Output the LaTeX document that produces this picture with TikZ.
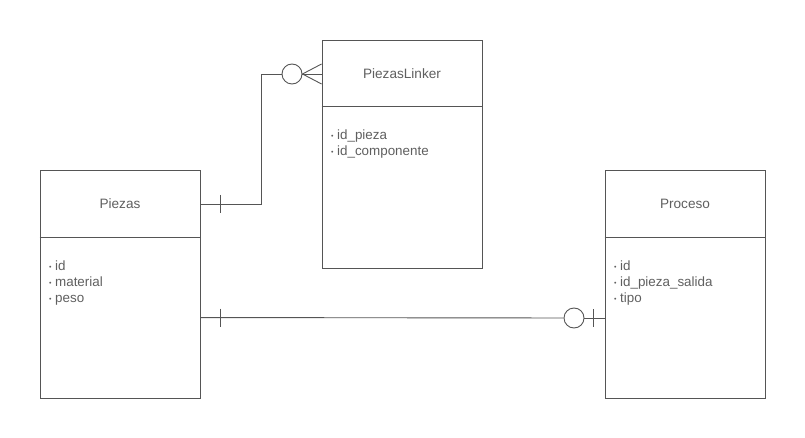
\documentclass[tikz,border=0pt]{standalone}
\usepackage{fontspec}
\setmainfont{Liberation Sans}
\usepackage{xcolor}
\usepackage{tikz}
\usetikzlibrary{positioning, calc}
\definecolor{LineGray}{RGB}{85, 85, 85}
\definecolor{TextGray}{RGB}{95, 95, 95}

\begin{document}
\begin{tikzpicture}[x=1pt, y=-1pt,
    entity/.style={draw=LineGray, line width=0.9pt, minimum width=160pt, minimum height=228pt, inner sep=0pt},
    title/.style={text=TextGray, font=\fontsize{13.6}{15}\selectfont},
    attrs/.style={text=TextGray, font=\fontsize{13.4}{16}\selectfont, align=left, anchor=north west, inner sep=0pt},
    conn/.style={draw=LineGray, line width=0.9pt},
    zero/.style={circle, draw=LineGray, line width=0.9pt, fill=white, minimum size=20pt, inner sep=0pt}]
  \useasboundingbox (0,0) rectangle (805,438);
  \newcommand{\itm}[1]{\raisebox{1.5pt}{\fontsize{7}{7}\selectfont\textbullet}\hspace{3.5pt}#1}

  % tables
  \node[entity] (piezas) at (120,284) {};
  \node[entity] (linker) at (402,154) {};
  \node[entity] (proceso) at (685,284) {};

  \node[title] (piezasT) at (120,204) {Piezas};
  \node[title] (linkerT) at (402,74) {PiezasLinker};
  \node[title] (procesoT) at (685,204) {Proceso};

  \draw[conn] ($(piezas.north west)+(0,68)$) -- ($(piezas.north east)+(0,68)$);
  \draw[conn] ($(linker.north west)+(0,67)$) -- ($(linker.north east)+(0,67)$);
  \draw[conn] ($(proceso.north west)+(0,68)$) -- ($(proceso.north east)+(0,68)$);

  \node[attrs] (piezasA) at (49,261) {\itm{id}\\ \itm{material}\\ \itm{peso}};
  \node[attrs] (linkerA) at (331,130) {\itm{id\_pieza}\\ \itm{id\_componente}};
  \node[attrs] (procesoA) at (614,261) {\itm{id}\\ \itm{id\_pieza\_salida}\\ \itm{tipo}};

  % Piezas -> PiezasLinker
  \coordinate (bend) at ($(piezas.east |- piezasT)+(61,0)$);
  \node[zero] (z1) at (292,74) {};
  \draw[conn] (piezas.east |- piezasT) -- (bend) |- (z1);
  \draw[conn] ($(piezas.east |- piezasT)+(20,-9)$) -- ++(0,18);
  \draw[conn] (z1.east) -- ($(linker.west |- linkerT)+(0,-10)$);
  \draw[conn] (z1.east) -- (linker.west |- linkerT);
  \draw[conn] (z1.east) -- ($(linker.west |- linkerT)+(0,10)$);

  % Piezas -> Proceso
  \coordinate (p1) at ($(piezas.north east)+(0,148)$);
  \node[zero] (z2) at (574,318) {};
  \draw[conn] (p1) -- (z2);
  \draw[conn] (z2) -- (proceso.west |- z2);
  \draw[conn] ($(p1)+(20,-9)$) -- ++(0,18);
  \draw[conn] ($(proceso.west |- z2)+(-11,-9)$) -- ++(0,18);
\end{tikzpicture}
\end{document}
